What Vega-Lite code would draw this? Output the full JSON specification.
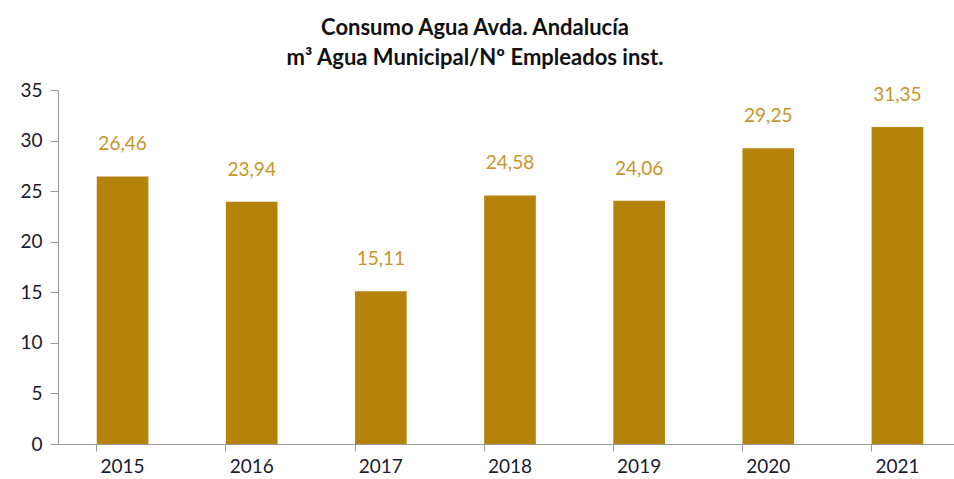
{
  "$schema": "https://vega.github.io/schema/vega-lite/v6.json",
  "width": 904,
  "height": 354,
  "autosize": {"type": "none"},
  "padding": {"left": 58, "top": 90, "right": 0, "bottom": 35},
  "background": "white",
  "title": {
    "text": ["Consumo Agua Avda. Andalucía", "m³ Agua Municipal/Nº Empleados inst."],
    "font": "Lato",
    "fontSize": 22,
    "fontWeight": "bold",
    "color": "#111111",
    "anchor": "middle",
    "dx": -35,
    "offset": 11,
    "lineHeight": 30
  },
  "data": {
    "values": [
      {"year": "2015", "value": 26.46, "label": "26,46"},
      {"year": "2016", "value": 23.94, "label": "23,94"},
      {"year": "2017", "value": 15.11, "label": "15,11"},
      {"year": "2018", "value": 24.58, "label": "24,58"},
      {"year": "2019", "value": 24.06, "label": "24,06"},
      {"year": "2020", "value": 29.25, "label": "29,25"},
      {"year": "2021", "value": 31.35, "label": "31,35"}
    ]
  },
  "encoding": {
    "x": {
      "field": "year",
      "type": "nominal",
      "title": null,
      "scale": {"paddingInner": 0.6, "paddingOuter": 0.3},
      "axis": {
        "bandPosition": 0,
        "labelAngle": 0,
        "labelFont": "Lato",
        "labelFontSize": 19,
        "labelColor": "#1a1a2e",
        "labelPadding": 6,
        "domainColor": "#999999",
        "tickColor": "#999999",
        "tickSize": 7,
        "grid": false
      }
    },
    "y": {
      "field": "value",
      "type": "quantitative",
      "title": null,
      "scale": {"domain": [0, 35]},
      "axis": {
        "values": [0, 5, 10, 15, 20, 25, 30, 35],
        "labelFont": "Lato",
        "labelFontSize": 19,
        "labelColor": "#1a1a2e",
        "labelPadding": 8,
        "domainColor": "#999999",
        "tickColor": "#999999",
        "tickSize": 8,
        "grid": false
      }
    }
  },
  "layer": [
    {"mark": {"type": "bar", "color": "#B5820A"}},
    {
      "mark": {"type": "text", "dy": -22, "font": "Lato", "fontSize": 19, "color": "#C8942A", "baseline": "bottom"},
      "encoding": {"text": {"field": "label"}}
    }
  ],
  "config": {"view": {"stroke": null}}
}
